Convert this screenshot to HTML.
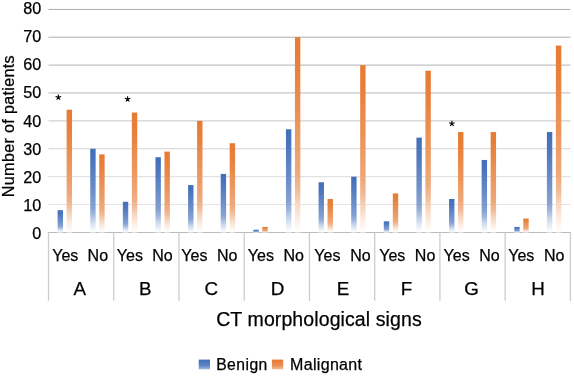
<!DOCTYPE html>
<html><head><meta charset="utf-8"><style>
html,body{margin:0;padding:0;background:#fff;}
svg{display:block;will-change:transform;font-family:"Liberation Sans",sans-serif;fill:#000;} text{stroke:#000;stroke-width:0.25px;}
</style></head><body>
<svg width="574" height="377" viewBox="0 0 574 377">
<defs><linearGradient id="gb" x1="0" y1="0" x2="0" y2="1"><stop offset="0" stop-color="#426eba"/><stop offset="0.18" stop-color="#4d77be"/><stop offset="0.35" stop-color="#5e84c4"/><stop offset="0.5" stop-color="#6d8fca"/><stop offset="0.7" stop-color="#85a1d2"/><stop offset="0.78" stop-color="#a0b6dc"/><stop offset="0.85" stop-color="#c4d2ea"/><stop offset="0.93" stop-color="#e6ecf6"/><stop offset="1" stop-color="#ffffff"/></linearGradient><linearGradient id="go" x1="0" y1="0" x2="0" y2="1"><stop offset="0" stop-color="#e67a32"/><stop offset="0.18" stop-color="#e8823e"/><stop offset="0.35" stop-color="#ea8e51"/><stop offset="0.5" stop-color="#ec9961"/><stop offset="0.7" stop-color="#efa97b"/><stop offset="0.78" stop-color="#f2bc98"/><stop offset="0.85" stop-color="#f7d6bf"/><stop offset="0.93" stop-color="#fceee4"/><stop offset="1" stop-color="#ffffff"/></linearGradient><linearGradient id="lb" x1="0" y1="0" x2="0" y2="1"><stop offset="0" stop-color="#426eba"/><stop offset="0.6" stop-color="#5e84c4"/><stop offset="1" stop-color="#a0b6dc"/></linearGradient><linearGradient id="lo" x1="0" y1="0" x2="0" y2="1"><stop offset="0" stop-color="#e67a32"/><stop offset="0.6" stop-color="#ea8e51"/><stop offset="1" stop-color="#f2bc98"/></linearGradient></defs>
<defs><linearGradient id="gg" gradientUnits="userSpaceOnUse" x1="0" y1="9" x2="0" y2="205"><stop offset="0" stop-color="#acacac"/><stop offset="0.4" stop-color="#b4b4b4"/><stop offset="0.7" stop-color="#d2d2d2"/><stop offset="1" stop-color="#e4e4e4"/></linearGradient></defs>
<path d="M48.5,9.45H570.4M48.5,37.20H570.4M48.5,65.10H570.4M48.5,92.95H570.4M48.5,120.90H570.4M48.5,148.75H570.4M48.5,176.70H570.4M48.5,204.55H570.4" stroke="url(#gg)" stroke-width="1" fill="none"/>
<line x1="47.85" x2="571.05" y1="232.5" y2="232.5" stroke="#bcbcbc" stroke-width="1.2"/>
<line x1="48.50" x2="48.50" y1="232.5" y2="300.8" stroke="#cdcdcd" stroke-width="1.3"/>
<line x1="113.74" x2="113.74" y1="232.5" y2="300.8" stroke="#cdcdcd" stroke-width="1.3"/>
<line x1="178.97" x2="178.97" y1="232.5" y2="300.8" stroke="#cdcdcd" stroke-width="1.3"/>
<line x1="244.21" x2="244.21" y1="232.5" y2="300.8" stroke="#cdcdcd" stroke-width="1.3"/>
<line x1="309.45" x2="309.45" y1="232.5" y2="300.8" stroke="#cdcdcd" stroke-width="1.3"/>
<line x1="374.69" x2="374.69" y1="232.5" y2="300.8" stroke="#cdcdcd" stroke-width="1.3"/>
<line x1="439.92" x2="439.92" y1="232.5" y2="300.8" stroke="#cdcdcd" stroke-width="1.3"/>
<line x1="505.16" x2="505.16" y1="232.5" y2="300.8" stroke="#cdcdcd" stroke-width="1.3"/>
<line x1="570.40" x2="570.40" y1="232.5" y2="300.8" stroke="#cdcdcd" stroke-width="1.3"/>
<rect x="57.61" y="210.18" width="5.4" height="22.32" fill="url(#gb)"/>
<rect x="66.61" y="109.74" width="5.4" height="122.76" fill="url(#go)"/>
<rect x="90.23" y="148.80" width="5.4" height="83.70" fill="url(#gb)"/>
<rect x="99.23" y="154.38" width="5.4" height="78.12" fill="url(#go)"/>
<rect x="122.85" y="201.81" width="5.4" height="30.69" fill="url(#gb)"/>
<rect x="131.85" y="112.53" width="5.4" height="119.97" fill="url(#go)"/>
<rect x="155.47" y="157.17" width="5.4" height="75.33" fill="url(#gb)"/>
<rect x="164.47" y="151.59" width="5.4" height="80.91" fill="url(#go)"/>
<rect x="188.08" y="185.07" width="5.4" height="47.43" fill="url(#gb)"/>
<rect x="197.08" y="120.90" width="5.4" height="111.60" fill="url(#go)"/>
<rect x="220.70" y="173.91" width="5.4" height="58.59" fill="url(#gb)"/>
<rect x="229.70" y="143.22" width="5.4" height="89.28" fill="url(#go)"/>
<rect x="253.32" y="229.71" width="5.4" height="2.79" fill="url(#gb)"/>
<rect x="262.32" y="226.92" width="5.4" height="5.58" fill="url(#go)"/>
<rect x="285.94" y="129.27" width="5.4" height="103.23" fill="url(#gb)"/>
<rect x="294.94" y="37.20" width="5.4" height="195.30" fill="url(#go)"/>
<rect x="318.56" y="182.28" width="5.4" height="50.22" fill="url(#gb)"/>
<rect x="327.56" y="199.02" width="5.4" height="33.48" fill="url(#go)"/>
<rect x="351.18" y="176.70" width="5.4" height="55.80" fill="url(#gb)"/>
<rect x="360.18" y="65.10" width="5.4" height="167.40" fill="url(#go)"/>
<rect x="383.80" y="221.34" width="5.4" height="11.16" fill="url(#gb)"/>
<rect x="392.80" y="193.44" width="5.4" height="39.06" fill="url(#go)"/>
<rect x="416.42" y="137.64" width="5.4" height="94.86" fill="url(#gb)"/>
<rect x="425.42" y="70.68" width="5.4" height="161.82" fill="url(#go)"/>
<rect x="449.03" y="199.02" width="5.4" height="33.48" fill="url(#gb)"/>
<rect x="458.03" y="132.06" width="5.4" height="100.44" fill="url(#go)"/>
<rect x="481.65" y="159.96" width="5.4" height="72.54" fill="url(#gb)"/>
<rect x="490.65" y="132.06" width="5.4" height="100.44" fill="url(#go)"/>
<rect x="514.27" y="226.92" width="5.4" height="5.58" fill="url(#gb)"/>
<rect x="523.27" y="218.55" width="5.4" height="13.95" fill="url(#go)"/>
<rect x="546.89" y="132.06" width="5.4" height="100.44" fill="url(#gb)"/>
<rect x="555.89" y="45.57" width="5.4" height="186.93" fill="url(#go)"/>
<text x="65.30" y="260.70" text-anchor="middle" font-size="16.0">Yes</text>
<text x="97.85" y="260.70" text-anchor="middle" font-size="16.0">No</text>
<text x="79.75" y="294.90" text-anchor="middle" font-size="18.8">A</text>
<text x="129.90" y="260.70" text-anchor="middle" font-size="16.0">Yes</text>
<text x="162.55" y="260.70" text-anchor="middle" font-size="16.0">No</text>
<text x="145.20" y="294.90" text-anchor="middle" font-size="18.8">B</text>
<text x="194.40" y="260.70" text-anchor="middle" font-size="16.0">Yes</text>
<text x="227.25" y="260.70" text-anchor="middle" font-size="16.0">No</text>
<text x="211.20" y="294.90" text-anchor="middle" font-size="18.8">C</text>
<text x="260.85" y="260.70" text-anchor="middle" font-size="16.0">Yes</text>
<text x="293.80" y="260.70" text-anchor="middle" font-size="16.0">No</text>
<text x="277.60" y="294.90" text-anchor="middle" font-size="18.8">D</text>
<text x="327.40" y="260.70" text-anchor="middle" font-size="16.0">Yes</text>
<text x="360.40" y="260.70" text-anchor="middle" font-size="16.0">No</text>
<text x="342.90" y="294.90" text-anchor="middle" font-size="18.8">E</text>
<text x="392.30" y="260.70" text-anchor="middle" font-size="16.0">Yes</text>
<text x="425.10" y="260.70" text-anchor="middle" font-size="16.0">No</text>
<text x="406.40" y="294.90" text-anchor="middle" font-size="18.8">F</text>
<text x="456.60" y="260.70" text-anchor="middle" font-size="16.0">Yes</text>
<text x="489.40" y="260.70" text-anchor="middle" font-size="16.0">No</text>
<text x="471.50" y="294.90" text-anchor="middle" font-size="18.8">G</text>
<text x="521.25" y="260.70" text-anchor="middle" font-size="16.0">Yes</text>
<text x="554.30" y="260.70" text-anchor="middle" font-size="16.0">No</text>
<text x="537.95" y="294.90" text-anchor="middle" font-size="18.8">H</text>
<text x="41.20" y="239.10" text-anchor="end" font-size="16.2">0</text>
<text x="41.20" y="210.97" text-anchor="end" font-size="16.2">10</text>
<text x="41.20" y="182.85" text-anchor="end" font-size="16.2">20</text>
<text x="41.20" y="154.72" text-anchor="end" font-size="16.2">30</text>
<text x="41.20" y="126.60" text-anchor="end" font-size="16.2">40</text>
<text x="41.20" y="98.48" text-anchor="end" font-size="16.2">50</text>
<text x="41.20" y="70.35" text-anchor="end" font-size="16.2">60</text>
<text x="41.20" y="42.23" text-anchor="end" font-size="16.2">70</text>
<text x="41.20" y="14.10" text-anchor="end" font-size="16.2">80</text>
<text transform="translate(13.60,126.10) rotate(-90)" text-anchor="middle" font-size="16.2" letter-spacing="0.3">Number of patients</text>
<text x="319.00" y="326.00" text-anchor="middle" font-size="19.5" letter-spacing="0.1">CT morphological signs</text>
<path d="M58.35,97.39L58.35,94.49M58.35,97.39L61.11,96.49M58.35,97.39L60.05,99.74M58.35,97.39L56.65,99.74M58.35,97.39L55.59,96.49" stroke="#000" stroke-width="1.1" stroke-linecap="butt" fill="none"/>
<path d="M127.60,99.14L127.60,96.24M127.60,99.14L130.36,98.24M127.60,99.14L129.30,101.49M127.60,99.14L125.90,101.49M127.60,99.14L124.84,98.24" stroke="#000" stroke-width="1.1" stroke-linecap="butt" fill="none"/>
<path d="M451.90,123.59L451.90,120.69M451.90,123.59L454.66,122.69M451.90,123.59L453.60,125.94M451.90,123.59L450.20,125.94M451.90,123.59L449.14,122.69" stroke="#000" stroke-width="1.1" stroke-linecap="butt" fill="none"/>
<rect x="198.7" y="359.6" width="11.3" height="9.7" fill="url(#lb)"/>
<text x="216.20" y="370.40" font-size="15.7" letter-spacing="0.45">Benign</text>
<rect x="271.9" y="359.6" width="11.3" height="9.7" fill="url(#lo)"/>
<text x="290.00" y="370.40" font-size="16" letter-spacing="0.33">Malignant</text>
</svg>
</body></html>
